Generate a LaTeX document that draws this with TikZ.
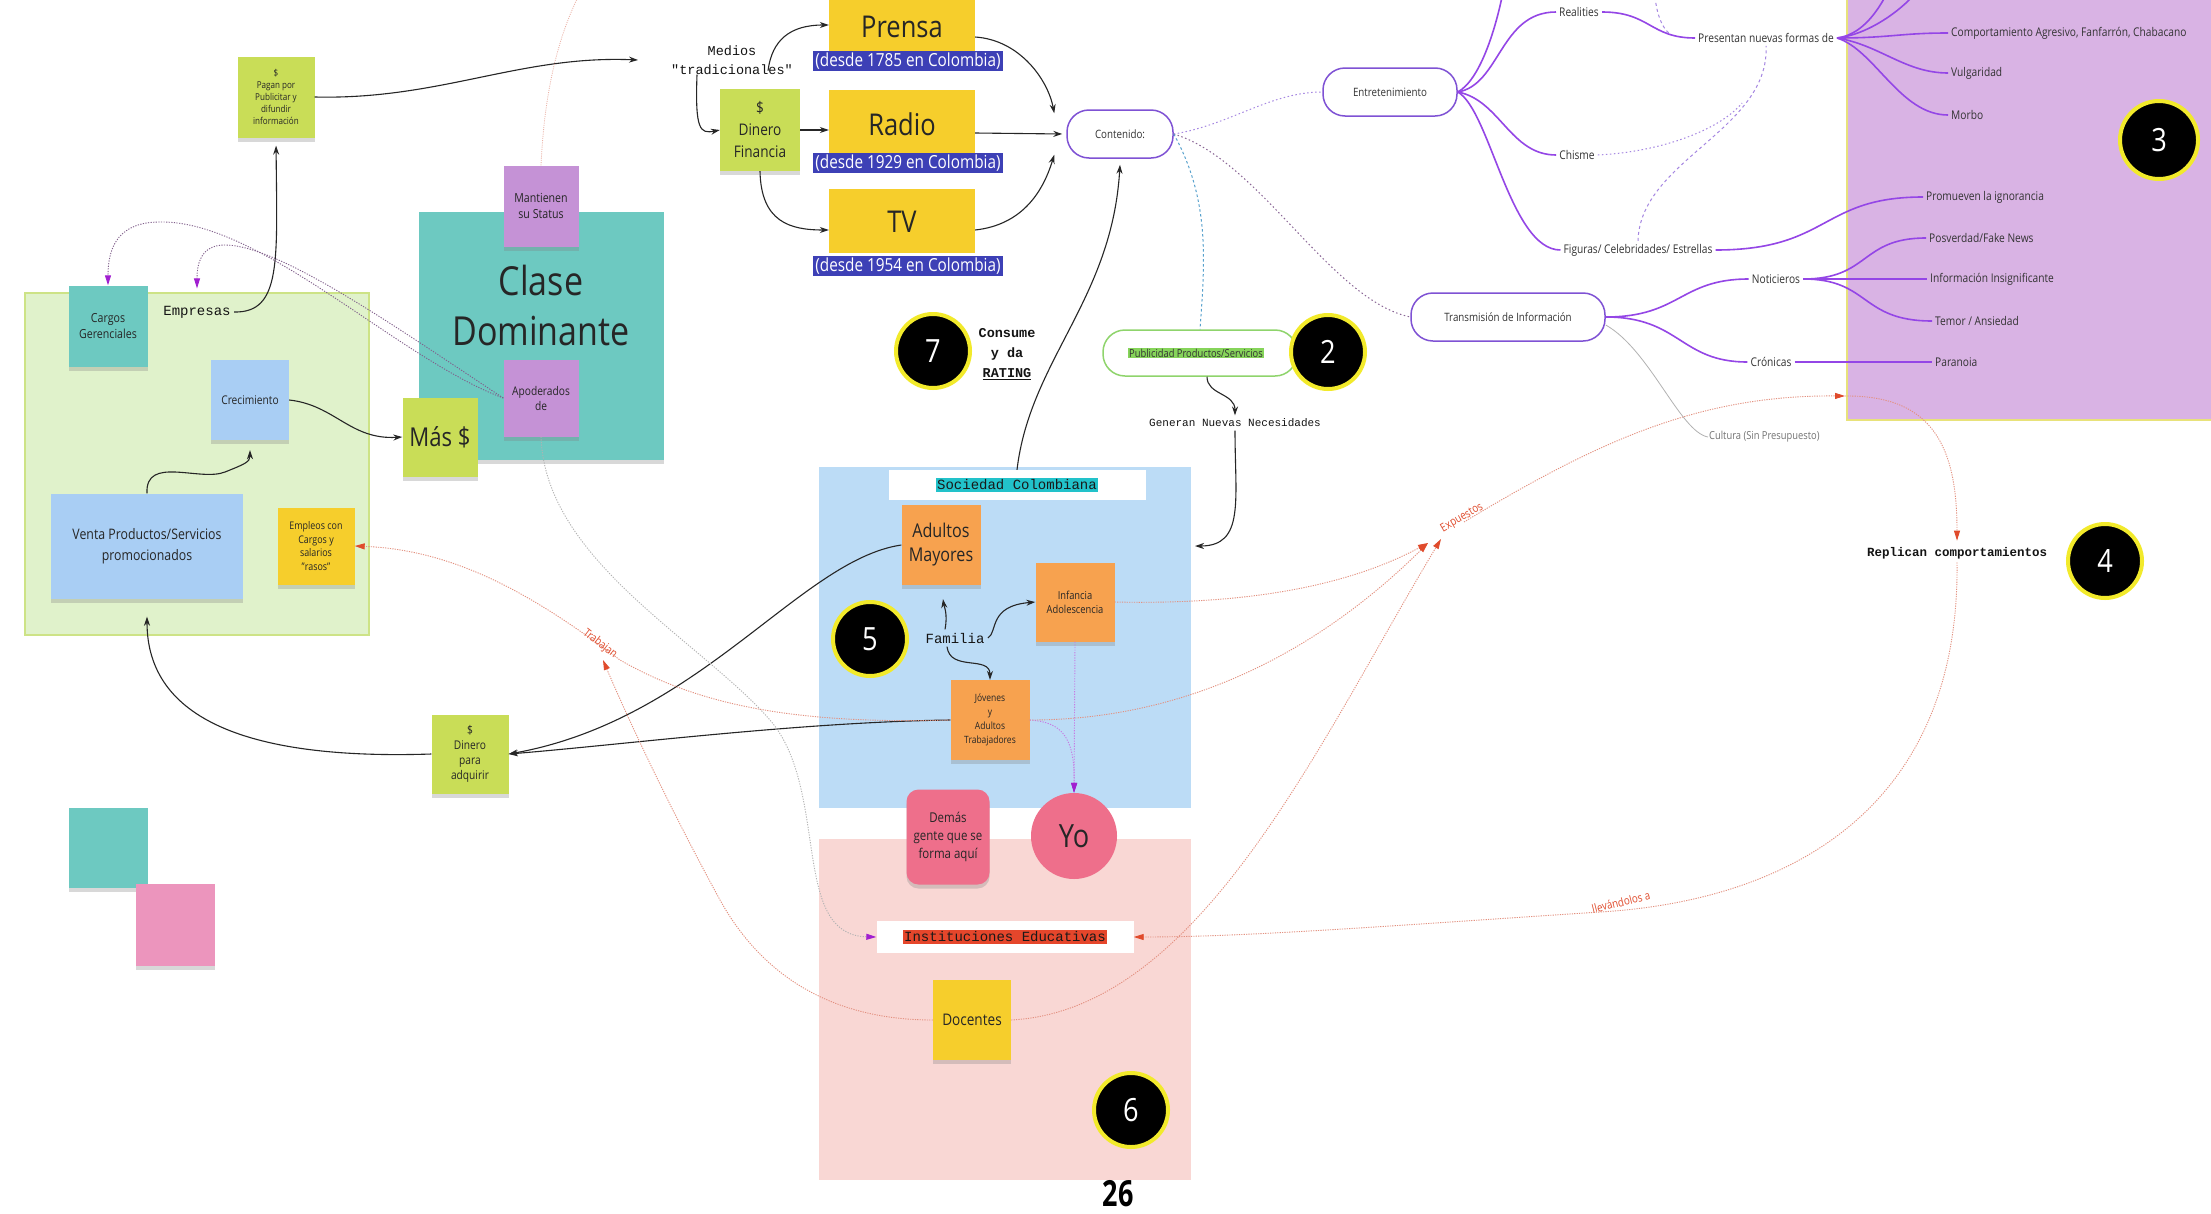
\documentclass[tikz,border=0pt]{standalone}
\usepackage{fontspec}
\setmainfont{Open Sans}[FakeStretch=0.85]
\newfontfamily\monof{Liberation Mono}
\newfontfamily\condb{Open Sans}[FakeStretch=0.75]
\usetikzlibrary{arrows.meta,shadows,calc}
\newcommand\myfs[2]{\fontsize{#1}{#2}\selectfont}
\definecolor{cLime}{HTML}{C9DD57}
\definecolor{cTeal}{HTML}{6DC9C1}
\definecolor{cPurp}{HTML}{C592D6}
\definecolor{cBlue}{HTML}{A9CEF4}
\definecolor{cYel}{HTML}{F6CE2C}
\definecolor{cOrg}{HTML}{F7A24F}
\definecolor{cPink}{HTML}{EE6F8B}
\definecolor{cPinkB}{HTML}{EC95BD}
\definecolor{cGreenBg}{HTML}{E0F2CB}
\definecolor{cGreenBd}{HTML}{CDE386}
\definecolor{cSocBg}{HTML}{BCDCF6}
\definecolor{cInstBg}{HTML}{F9D7D4}
\definecolor{cPurBg}{HTML}{D9B3E4}
\definecolor{cPurBd}{HTML}{E8E27A}
\definecolor{cLabel}{HTML}{3D40B6}
\definecolor{cCyan}{HTML}{22C2CA}
\definecolor{cRedHl}{HTML}{E5462B}
\definecolor{cPubHl}{HTML}{86D45A}
\definecolor{cPubBd}{HTML}{8FD46C}
\definecolor{cMM}{HTML}{9446E6}
\definecolor{cPill}{HTML}{7F52D4}
\definecolor{cRed}{HTML}{E04B2C}
\definecolor{cRedLn}{HTML}{E3907F}
\definecolor{cPA}{HTML}{A11FD0}
\definecolor{cBadge}{HTML}{F2EA2B}
\tikzset{
  x=1pt, y=-1pt,
  sticky/.style={rectangle, inner sep=2pt, align=center, text=black!85,
    drop shadow={shadow xshift=0pt, shadow yshift=-4pt, opacity=0.3}},
  plain/.style={rectangle, inner sep=0pt},
  badge/.style={circle, fill=black, draw=cBadge, line width=4pt, minimum size=74,
    text=white, font=\myfs{32}{32}},
  pill/.style={rectangle, rounded corners=22pt, draw=cPill, line width=1.5pt,
    fill=white, minimum height=48, font=\myfs{11.5}{13}, text=black!80},
  mml/.style={font=\myfs{12}{14}, text=black!80, inner sep=3pt},
  mm/.style={draw=cMM, line width=1.6pt},
  blk/.style={draw=black!85, line width=1.1pt, -{Stealth[length=9pt,width=6pt]}},
  reddot/.style={draw=cRedLn, line width=0.9pt, dash pattern=on 1.2pt off 1.2pt,
    -{Triangle[length=10pt,width=6pt,color=cRed]}},
  purpdot/.style={draw=black!35!cPurp, line width=0.9pt, dash pattern=on 1.2pt off 1.4pt,
    -{Triangle[length=10pt,width=6pt,color=cPA]}},
  dotpurp/.style={draw=cPill!70, line width=1pt, dash pattern=on 1.5pt off 2.5pt},
  dotteal/.style={draw=cTeal!80!blue, line width=1pt, dash pattern=on 2.5pt off 2.5pt},
  pinkdot/.style={draw=cRedLn!70, line width=0.8pt, dash pattern=on 1pt off 1.2pt},
  thingray/.style={draw=black!30, line width=0.8pt},
  lbl/.style={fill=cLabel, text=white, font=\myfs{18}{18}, inner sep=2pt},
  redlbl/.style={text=cRed, font=\myfs{11.5}{13}, inner sep=1pt},
  monotxt/.style={text=black!92}
}
\begin{document}
\begin{tikzpicture}
\useasboundingbox (0,0) rectangle (2211,1213);
\fill[white] (0,0) rectangle (2211,1213);
% background areas
\fill[cGreenBg] (25,293) rectangle (369,635);
\draw[cGreenBd, line width=1.5pt] (25,293) rectangle (369,635);
\fill[cSocBg] (819,467) rectangle (1191,808);
\fill[cInstBg] (819,839) rectangle (1191,1180);
\fill[cPurBg] (1847,-5) rectangle (2220,420);
\draw[cPurBd, line width=1.5pt] (1847,-5) -- (1847,420) -- (2220,420);

% coordinates
\coordinate (mediosin) at (638,60);
\coordinate (expA) at (1428,543);
\coordinate (expB) at (1441,539);
\coordinate (expo) at (1464,522);
\coordinate (purpin) at (1845,396);
\coordinate (trabtip) at (603,660);
\coordinate (mmtopA) at (1502,-3);
\coordinate (mmtopB) at (1885,-3);
\coordinate (mmtopC) at (1912,-3);
\coordinate (reatop) at (1655,-3);
\coordinate (reaend) at (1670,34);
\coordinate (manttop) at (578,-3);
\coordinate (chisend) at (1742,103);
\coordinate (socright) at (1195,546);

% ---------- left: Empresas ----------
\node[sticky, fill=cTeal, minimum width=79, minimum height=81, font=\myfs{12.5}{16}] (cargos) at (108,326) {Cargos\\Gerenciales};
\node[monotxt, font=\monof\myfs{14}{16}] (empresas) at (197,312) {Empresas};
\node[sticky, fill=cBlue, minimum width=78, minimum height=80, font=\myfs{12}{15}] (crec) at (250,400) {Crecimiento};
\node[sticky, fill=cBlue, minimum width=192, minimum height=105, font=\myfs{14.5}{21}] (venta) at (147,546) {Venta Productos/Servicios\\promocionados};
\node[sticky, fill=cYel, minimum width=77, minimum height=77, font=\myfs{10.5}{13.5}] (empleos) at (316,546) {Empleos con\\Cargos y\\salarios\\"rasos"};
\node[sticky, fill=cLime, minimum width=77, minimum height=81, font=\myfs{9.5}{12}] (pagan) at (276,97) {\$\\Pagan por\\Publicitar y\\difundir\\información};
\node[sticky, fill=cTeal, minimum width=245, minimum height=248] (clase) at (541,336) {};
\node[plain, align=center, font=\myfs{40}{50}, text=black!85] (clasetxt) at (541,305) {Clase\\Dominante};
\node[sticky, fill=cPurp, minimum width=75, minimum height=81, font=\myfs{12.5}{16}] (mant) at (541,206) {Mantienen\\su Status};
\node[sticky, fill=cPurp, minimum width=75, minimum height=77, font=\myfs{12}{15}] (apod) at (541,398) {Apoderados\\de};
\node[sticky, fill=cLime, minimum width=75, minimum height=79, font=\myfs{26}{30}] (mas) at (440,437) {Más \$};
\node[sticky, fill=cLime, minimum width=77, minimum height=79, font=\myfs{12}{15}] (dadq) at (470,754) {\$\\Dinero\\para\\adquirir};
\node[sticky, fill=cTeal, minimum width=79, minimum height=80] (tealsq) at (108,848) {};
\node[sticky, fill=cPinkB, minimum width=79, minimum height=82] (pinksq) at (175,925) {};

% ---------- media ----------
\node[plain, monotxt, align=center, font=\monof\myfs{13.5}{19}] (medios) at (732,60) {Medios\\"tradicionales"};
\node[sticky, fill=cLime, minimum width=80, minimum height=82, font=\myfs{16}{22}] (dinero) at (760,130) {\$\\Dinero\\Financia};
\node[fill=cYel, minimum width=146, minimum height=64, inner sep=0pt] (prensa) at (902,20) {};
\node[plain, font=\myfs{30}{30}, text=black!85] (prensatxt) at (902,27) {Prensa};
\node[lbl] (prensalbl) at (908,61) {(desde 1785 en Colombia)};
\node[fill=cYel, minimum width=146, minimum height=64, inner sep=0pt] (radio) at (902,122) {};
\node[plain, font=\myfs{30}{30}, text=black!85] (radiotxt) at (902,124) {Radio};
\node[lbl] (radiolbl) at (908,163) {(desde 1929 en Colombia)};
\node[fill=cYel, minimum width=146, minimum height=64, inner sep=0pt] (tv) at (902,221) {};
\node[plain, font=\myfs{30}{30}, text=black!85] (tvtxt) at (902,222) {TV};
\node[lbl] (tvlbl) at (908,266) {(desde 1954 en Colombia)};

% ---------- contenido / mind map ----------
\node[pill, minimum width=106] (cont) at (1120,134) {Contenido:};
\node[pill, minimum width=134] (ent) at (1390,92) {Entretenimiento};
\node[pill, minimum width=194] (trans) at (1508,317) {Transmisión de Información};
\node[pill, draw=cPubBd, minimum width=194, minimum height=46] (pub) at (1200,353) {};
\node[fill=cPubHl, inner sep=1pt, font=\myfs{11}{13}, text=black!80] (pubtxt) at (1196,353) {Publicidad Productos/Servicios};

\node[mml] (real) at (1579,12) {Realities};
\node[mml] (pres) at (1766,38) {Presentan nuevas formas de};
\node[mml] (chis) at (1577,155) {Chisme};
\node[mml] (fig) at (1638,250) {Figuras/ Celebridades/ Estrellas};
\node[mml] (noti) at (1776,279) {Noticieros};
\node[mml] (cron) at (1771,362) {Crónicas};
\node[mml, anchor=west] (comp) at (1948,33) {Comportamiento Agresivo, Fanfarrón, Chabacano};
\node[mml, anchor=west] (vulg) at (1948,73) {Vulgaridad};
\node[mml, anchor=west] (morb) at (1948,115) {Morbo};
\node[mml, anchor=west] (prom) at (1923,197) {Promueven la ignorancia};
\node[mml, anchor=west] (posv) at (1926,238) {Posverdad/Fake News};
\node[mml, anchor=west] (info) at (1927,279) {Información Insignificante};
\node[mml, anchor=west] (temo) at (1932,321) {Temor / Ansiedad};
\node[mml, anchor=west] (para) at (1932,362) {Paranoia};

% mind map edges
\draw[mm] (ent.east) .. controls (1480,80) and (1495,30) .. (mmtopA);
\draw[mm] (ent.east) .. controls (1500,85) and (1500,12) .. (real.west);
\draw[mm] (ent.east) .. controls (1500,100) and (1510,155) .. (chis.west);
\draw[mm] (ent.east) .. controls (1490,110) and (1510,250) .. (fig.west);
\draw[mm] (real.east) .. controls (1650,12) and (1650,38) .. (pres.west);
\draw[mm] (pres.east) .. controls (1860,35) and (1875,15) .. (mmtopB);
\draw[mm] (pres.east) .. controls (1865,35) and (1895,15) .. (mmtopC);
\draw[mm] (pres.east) .. controls (1890,38) and (1900,33) .. (comp.west);
\draw[mm] (pres.east) .. controls (1880,45) and (1905,73) .. (vulg.west);
\draw[mm] (pres.east) .. controls (1875,50) and (1900,115) .. (morb.west);
\draw[mm] (fig.east) .. controls (1830,250) and (1820,197) .. (prom.west);
\draw[mm] (trans.east) .. controls (1680,317) and (1680,279) .. (noti.west);
\draw[mm] (trans.east) .. controls (1680,317) and (1680,362) .. (cron.west);
\draw[mm] (noti.east) .. controls (1870,279) and (1860,238) .. (posv.west);
\draw[mm] (noti.east) -- (info.west);
\draw[mm] (noti.east) .. controls (1870,279) and (1860,321) .. (temo.west);
\draw[mm] (cron.east) -- (para.west);

% dotted links of contenido
\draw[dotpurp] (cont.east) .. controls (1230,125) and (1270,92) .. (ent.west);
\draw[dotpurp, draw=black!30!cPurp] (cont.east) .. controls (1260,160) and (1330,300) .. (trans.west);
\draw[dotteal] (cont.east) .. controls (1210,200) and (1205,260) .. (pub.north);
\draw[dotpurp] (chis.east) .. controls (1660,152) and (1720,130) .. (chisend);
\draw[dotpurp, dash pattern=on 3pt off 3pt] (fig.north) .. controls (1640,160) and (1770,130) .. (pres.south);
\draw[dotpurp, dash pattern=on 3pt off 3pt] (reatop) .. controls (1657,15) and (1662,28) .. (reaend);

% badges and misc text
\node[badge] (b2) at (1328,352) {2};
\node[badge, minimum size=78] (b3) at (2159,140) {3};
\node[badge] (b4) at (2105,561) {4};
\node[badge] (b5) at (870,639) {5};
\node[badge] (b6) at (1131,1110) {6};
\node[badge] (b7) at (933,351) {7};
\node[plain, monotxt, align=center, font=\monof\bfseries\myfs{13.5}{20}] (consume) at (1007,354) {Consume\\y da\\\underline{RATING}};
\node[monotxt, font=\monof\myfs{11}{13}] (gen) at (1235,423) {Generan Nuevas Necesidades};
\node[monotxt, font=\monof\bfseries\myfs{12.5}{14}] (repl) at (1957,553) {Replican comportamientos};
\node[text=black!55, font=\myfs{11}{13}, anchor=west, inner sep=1pt] (cult) at (1708,437) {Cultura (Sin Presupuesto)};

% ---------- sociedad ----------
\node[fill=white, minimum width=257, minimum height=30, inner sep=0pt] (soclbl) at (1017,485) {};
\node[fill=cCyan, inner sep=1.5pt, font=\monof\myfs{14}{16}, text=black!90] (soctxt) at (1017,485) {Sociedad Colombiana};
\node[sticky, fill=cOrg, minimum width=79, minimum height=80, font=\myfs{19}{24}] (adult) at (941,545) {Adultos\\Mayores};
\node[sticky, fill=cOrg, minimum width=79, minimum height=79, font=\myfs{11}{14}] (inf) at (1075,602) {Infancia\\Adolescencia};
\node[monotxt, font=\monof\myfs{14}{16}] (fam) at (955,638) {Familia};
\node[sticky, fill=cOrg, minimum width=79, minimum height=80, font=\myfs{10}{14}] (jov) at (990,720) {Jóvenes\\y\\Adultos\\Trabajadores};
\node[sticky, fill=cPink, rounded corners=12pt, minimum width=83, minimum height=95, font=\myfs{13.5}{18}] (demas) at (948,837) {Demás\\gente que se\\forma aquí};
\node[circle, fill=cPink, minimum size=86, inner sep=0pt, font=\myfs{32}{32}, text=black!85] (yo) at (1074,836) {Yo};
\node[fill=white, minimum width=257, minimum height=32, inner sep=0pt] (instlbl) at (1005,937) {};
\node[fill=cRedHl, inner sep=1.5pt, font=\monof\myfs{14}{16}, text=black!90] (insttxt) at (1005,937) {Instituciones Educativas};
\node[sticky, fill=cYel, minimum width=78, minimum height=80, font=\myfs{16}{20}] (doc) at (972,1020) {Docentes};
\node[font=\condb\bfseries\myfs{36}{36}, text=black] (pagenum) at (1118,1194) {26};

% ---------- black connectors ----------
\draw[blk, shorten >=8pt] (empresas.east) .. controls (282,313) and (277,260) .. (pagan.south);
\draw[blk] (pagan.east) .. controls (440,100) and (520,55) .. (mediosin);
\draw[blk] ([xshift=-35pt]medios.south) .. controls (695,130) and (700,134) .. (dinero.west);
\draw[blk] ([xshift=36pt,yshift=4pt]medios.south) .. controls (772,40) and (790,25) .. ([yshift=-5pt]prensa.west);
\draw[blk] (dinero.east) -- (radio.west |- dinero.east);
\draw[blk] (dinero.south) .. controls (761,222) and (790,230) .. ([yshift=-9pt]tv.west);
\draw[blk] ([yshift=-17pt]prensa.east) .. controls (1020,40) and (1048,80) .. ([xshift=-12pt,yshift=-4pt]cont.north west);
\draw[blk] ([yshift=-11pt]radio.east) -- ([xshift=-4pt]cont.west);
\draw[blk] ([yshift=-9pt]tv.east) .. controls (1020,225) and (1042,195) .. ([xshift=-12pt,yshift=4pt]cont.south west);
\draw[blk] (soclbl.north) .. controls (1030,360) and (1112,300) .. ([yshift=-6pt]cont.south);
\draw[blk] ([xshift=7pt]pub.south) .. controls (1207,395) and (1235,393) .. (gen.north);
\draw[blk] (gen.south) .. controls (1235,500) and (1245,546) .. (socright);
\draw[blk, shorten >=14pt] ([xshift=-10pt]fam.north) .. controls (948,614) and (944,606) .. (adult.south);
\draw[blk] (fam.east) .. controls (998,632) and (988,606) .. (inf.west);
\draw[blk] ([xshift=-8pt]fam.south) .. controls (950,672) and (990,655) .. (jov.north);
\draw[blk, shorten >=10pt] (venta.north) .. controls (145,455) and (200,482) .. (225,472) .. controls (245,464) and (250,462) .. (crec.south);
\draw[blk] (crec.east) .. controls (335,405) and (350,440) .. (mas.west);
\draw[blk, shorten >=18pt] (dadq.west) .. controls (250,760) and (147,720) .. (venta.south);
\draw[blk] (adult.west) .. controls (800,560) and (700,720) .. (dadq.east);
\draw[blk] (jov.west) .. controls (800,722) and (620,745) .. (dadq.east);

% ---------- dotted connectors ----------
\draw[purpdot] (apod.west) .. controls (400,360) and (260,220) .. (160,222) .. controls (120,222) and (108,245) .. (cargos.north);
\draw[purpdot, shorten >=14pt] (apod.west) .. controls (400,330) and (280,245) .. (225,245) .. controls (200,245) and (197,265) .. (empresas.north);
\draw[purpdot, draw=black!30] (apod.south) .. controls (545,560) and (700,640) .. (770,720) .. controls (830,790) and (790,935) .. (instlbl.west);
\draw[pinkdot] (mant.north) .. controls (545,80) and (562,30) .. (manttop);
\draw[purpdot, draw=cPA!60] (inf.south) -- (yo.north);
\draw[purpdot, draw=cPA!60] (jov.east) .. controls (1060,722) and (1075,735) .. (yo.north);
\draw[thingray] ([yshift=-8pt]trans.east) .. controls (1650,350) and (1680,432) .. (cult.west);

% red dotted
\draw[reddot] (jov.west) .. controls (780,725) and (690,700) .. (620,660) .. controls (540,600) and (460,550) .. (empleos.east);
\draw[reddot] (doc.west) .. controls (850,1020) and (770,990) .. (720,900) .. controls (660,790) and (620,700) .. (trabtip);
\draw[reddot] (inf.east) .. controls (1250,605) and (1350,585) .. (expA);
\draw[reddot] (jov.east) .. controls (1200,720) and (1330,640) .. (expA);
\draw[reddot] (doc.east) .. controls (1200,1010) and (1320,740) .. (expB);
\draw[reddot] (expo) .. controls (1600,440) and (1700,395) .. (purpin);
\draw[reddot, shorten >=3pt] (purpin) .. controls (1935,395) and (1957,450) .. (repl.north);
\draw[reddot] (repl.south) .. controls (1960,800) and (1800,900) .. (1600,912) .. controls (1400,925) and (1250,937) .. (instlbl.east);

\node[redlbl, rotate=-38] (trablbl) at (600,644) {Trabajan};
\node[redlbl, rotate=30] (explbl) at (1462,518) {Expuestos};
\node[redlbl, rotate=14] (llevlbl) at (1621,902) {llevándolos a};
\end{tikzpicture}
\end{document}
